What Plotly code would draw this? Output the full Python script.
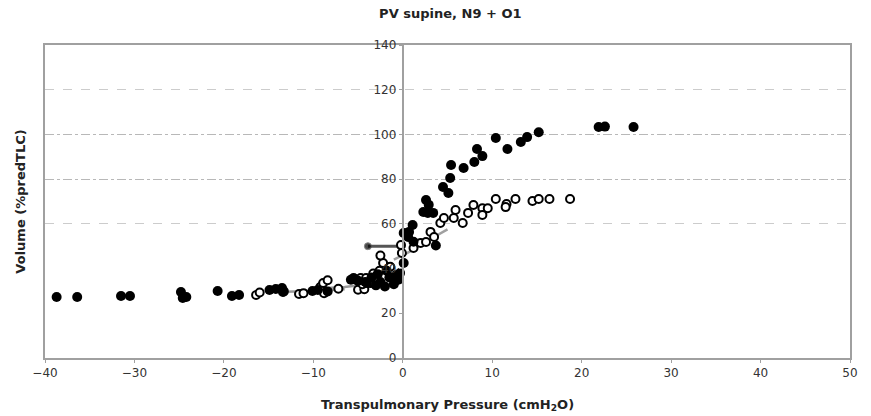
import plotly.graph_objects as go

# ---- data ----
filled_x = [-38.7, -36.4, -31.5, -30.5, -24.8, -24.6, -24.2, -20.7, -19.1, -18.3,
            -14.9, -14.2, -13.5, -13.3, -10.1, -9.5, -8.4, -5.8, -5.5, -5.0,
            -4.0, -3.0, -2.0, -1.0, -0.5, -1.5, -0.3, 0.1, -0.8, -2.5,
            -3.5, -4.2, -2.8, -1.8, 0.1, 0.6, 0.7, 1.1, 1.2,
            3.7, 2.3, 2.8, 3.4, 2.6, 2.9, 4.5, 5.1, 5.3, 5.4,
            6.8, 8.0, 8.3, 8.9, 10.4, 11.7, 13.2, 13.9, 15.2, 21.9,
            22.6, 25.8]
filled_y = [27.3, 27.3, 27.7, 27.7, 29.5, 26.8, 27.3, 30.0, 27.7, 28.2,
            30.4, 30.9, 31.3, 29.8, 30.0, 30.4, 29.8, 35.0, 35.8, 34.5,
            33.5, 32.5, 32.0, 33.0, 35.0, 36.0, 38.0, 42.5, 37.0, 34.0,
            36.0, 34.0, 37.5, 39.0, 55.9, 54.1, 56.4, 59.5, 52.0,
            50.3, 65.3, 64.9, 64.9, 70.7, 68.5, 76.5, 73.8, 80.5, 86.3,
            85.0, 87.7, 93.5, 90.3, 98.4, 93.5, 96.6, 98.8, 101.0, 103.3,
            103.5, 103.3]

open_x = [-16.4, -16.0, -13.4, -11.6, -11.1, -9.2, -8.9, -8.8, -8.4, -7.2,
          -5.3, -4.7, -4.1, -5.0, -4.3, -4.5, -3.6, -3.0, -3.3, -2.6,
          -2.2, -2.5, -1.4, -0.2, -0.1, 1.2, 2.0, 2.6, 3.1, 3.5,
          4.2, 4.6, 5.7, 5.9, 6.7, 7.3, 7.9, 8.9, 9.5, 8.9,
          10.4, 11.6, 11.5, 12.6, 14.5, 15.2, 16.4, 18.7]
open_y = [28.2, 29.3, 29.5, 28.6, 29.0, 31.8, 33.5, 29.0, 34.8, 31.0,
          35.2, 35.8, 35.8, 30.5, 30.8, 33.0, 33.5, 35.0, 37.8, 39.0,
          42.5, 45.8, 40.8, 50.5, 47.0, 49.2, 51.4, 51.9, 56.4, 54.1,
          60.4, 62.6, 62.6, 66.2, 60.4, 64.9, 68.4, 67.0, 67.0, 64.0,
          71.1, 68.9, 67.5, 71.1, 70.2, 71.1, 71.1, 71.1]

# gray reference lines
flat_x = [-3.9, 0.3]
flat_y = [50.0, 50.0]
low_a_x = [-13.2, -10.0, -6.5]
low_a_y = [29.6, 30.0, 30.8]
low_b_x = [-10.0, -6.5, -4.0]
low_b_y = [31.0, 31.8, 33.0]
up_x = [-1.0, 1.0, 3.0, 5.0]
up_y = [44.0, 48.0, 53.0, 57.5]

x_ticks = [-40, -30, -20, -10, 0, 10, 20, 30, 40, 50]
y_ticks = [0, 20, 40, 60, 80, 100, 120, 140]
grid_light = [60, 120]
grid_dark = [80, 100]

fig = go.Figure()
for lx, ly, col, w in [(low_a_x, low_a_y, "#9a9a9a", 2.5), (low_b_x, low_b_y, "#9a9a9a", 2.5),
                       (up_x, up_y, "#a0a0a0", 2.5)]:
    fig.add_trace(go.Scatter(x=lx, y=ly, mode="lines", line=dict(color=col, width=w),
                             showlegend=False, hoverinfo="skip"))
fig.add_trace(go.Scatter(x=flat_x, y=flat_y, mode="lines+markers",
                         line=dict(color="#555555", width=3),
                         marker=dict(size=[7, 0], color="black"),
                         showlegend=False, hoverinfo="skip"))

fig.add_trace(go.Scatter(x=open_x, y=open_y, mode="markers", showlegend=False,
                         marker=dict(size=8, color="white", line=dict(color="black", width=2))))
fig.add_trace(go.Scatter(x=filled_x, y=filled_y, mode="markers", showlegend=False,
                         marker=dict(size=10, color="black", line=dict(width=0))))

axis_font = dict(family="DejaVu Sans", size=12, color="#333333")
title_font = dict(family="DejaVu Sans", size=13, color="#222222")

fig.update_layout(
    width=871, height=416,
    margin=dict(l=45, r=21, t=45, b=58),
    paper_bgcolor="white", plot_bgcolor="white",
    title=dict(text="<b>PV supine, N9 + O1</b>", x=0.517, xanchor="center",
               y=0.968, yanchor="middle", yref="container",
               font=dict(family="DejaVu Sans", size=13, color="#222222")),
    xaxis=dict(range=[-40, 50], tickvals=x_ticks, showgrid=False, zeroline=False,
               showline=True, mirror=True, linecolor="#a0a0a0", linewidth=2,
               ticks="outside", ticklen=3, tickcolor="#a0a0a0",
               tickfont=axis_font, automargin=False,
               title=dict(text="<b>Transpulmonary Pressure (cmH<sub>2</sub>O)</b>",
                          font=title_font, standoff=20)),
    yaxis=dict(range=[0, 140], tickvals=grid_light, showticklabels=False,
               showgrid=True, gridcolor="#cccccc", griddash="dash", gridwidth=1,
               zeroline=False, showline=True, mirror=True, linecolor="#a0a0a0", linewidth=2,
               automargin=False,
               title=dict(text="<b>Volume (%predTLC)</b>", font=title_font, standoff=14)),
    yaxis3=dict(range=[0, 140], overlaying="y", tickvals=grid_dark, showticklabels=False,
                showgrid=True, gridcolor="#b8b8b8", griddash="dashdot", gridwidth=1,
                zeroline=False, showline=False, automargin=False),
    yaxis2=dict(range=[0, 140], overlaying="y", anchor="free", position=40 / 90,
                side="left", tickvals=y_ticks, showgrid=False, zeroline=False,
                showline=True, linecolor="#a0a0a0", linewidth=2, automargin=False,
                ticks="outside", ticklen=3, tickcolor="#a0a0a0", tickfont=axis_font),
)
# invisible anchor points so the overlay axes render
fig.add_trace(go.Scatter(x=[0], y=[0], yaxis="y2", mode="markers",
                         marker=dict(opacity=0), showlegend=False, hoverinfo="skip"))
fig.add_trace(go.Scatter(x=[0], y=[0], yaxis="y3", mode="markers",
                         marker=dict(opacity=0), showlegend=False, hoverinfo="skip"))

fig.write_html("out.html", config={"displayModeBar": False},
               post_script="document.body.style.margin='0px';document.body.style.overflow='hidden';")
